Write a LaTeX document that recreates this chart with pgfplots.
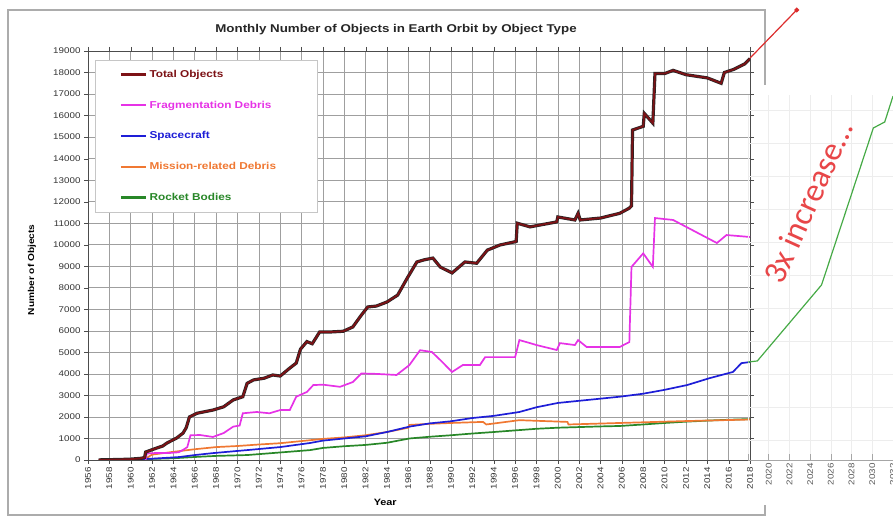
\documentclass[border=0pt]{standalone}
\usepackage{pgfplots}
\pgfplotsset{compat=1.18}
\usepackage{fontspec}
\setmainfont[FakeStretch=1.18]{Liberation Sans}
\newfontfamily\calib{Carlito}
\definecolor{tot}{RGB}{125,18,22}
\definecolor{frag}{RGB}{230,50,230}
\definecolor{sc}{RGB}{30,30,215}
\definecolor{mrd}{RGB}{240,120,50}
\definecolor{rb}{RGB}{40,135,40}
\definecolor{extgreen}{RGB}{70,170,70}
\definecolor{arrowred}{RGB}{220,45,45}
\definecolor{textred}{RGB}{232,70,72}
\begin{document}
\begin{tikzpicture}[x=1pt,y=1pt]
\useasboundingbox (0,0) rectangle (893,516);
\draw[gray!65, line width=1.3pt] (765,431) -- (765,506) -- (8,506) -- (8,1) -- (765,1) -- (765,11);
\node[font=\bfseries\fontsize{11.3}{13}\selectfont, text=black!85] at (396,486) {Monthly Number of Objects in Earth Orbit by Object Type};
\begin{axis}[
  at={(88pt,56pt)}, anchor=south west, scale only axis,
  width=662pt, height=409pt,
  xmin=1956, xmax=2018, ymin=0, ymax=19000,
  xtick={1956,1958,...,2018}, ytick={0,1000,...,19000},
  grid=major, grid style={gray!75, line width=0.6pt},
  axis line style={black!70, line width=0.9pt},
  tick style={black!70}, tick align=outside, major tick length=4pt,
  /pgf/number format/assume math mode=true,
  /pgf/number format/1000 sep={},
  scaled y ticks=false,
  x tick label style={rotate=90, anchor=east, font=\fontsize{8.3}{9}\selectfont, text=black!80},
  y tick label style={font=\fontsize{8.3}{9}\selectfont, text=black!80},
  ylabel={Number of Objects}, xlabel={Year},
  ylabel style={at={(axis description cs:-0.0846,0.465)}, anchor=center, font=\bfseries\fontsize{8.6}{10}\selectfont},
  xlabel style={at={(axis description cs:0.449,-0.103)}, anchor=center, font=\bfseries\fontsize{9.2}{10}\selectfont},
  reverse legend,
  legend style={at={(axis description cs:0.0106,0.978)}, anchor=north west,
    draw=gray!45, fill=white, font=\bfseries\fontsize{10}{12}\selectfont,
    row sep=18pt, inner xsep=24pt, inner ysep=8pt, cells={anchor=west}},
  legend image code/.code={\draw[#1] (0pt,0pt) -- (25pt,0pt);},
]
\addplot[rb, line width=1.7pt, legend image post style={line width=2.2pt}] coordinates {
(1957.5,0) (1960,20) (1962,50) (1964,80) (1966,140) (1968,190) (1970.9,230) (1974,350)
(1976.8,460) (1978,560) (1980,640) (1982,700) (1984,800) (1986.1,1000) (1988,1080)
(1990,1150) (1992,1230) (1994,1300) (1996.4,1390) (1998,1450) (2000,1500) (2002,1530)
(2004,1560) (2005.8,1580) (2008,1650) (2010,1720) (2012,1780) (2014,1830) (2016,1870) (2018,1900)};
\addlegendentry{\textcolor{rb}{\makebox[142pt][l]{Rocket Bodies}}}
\addplot[mrd, line width=1.7pt, legend image post style={line width=2.2pt}] coordinates {
(1958,0) (1960,20) (1961.5,100) (1962,250) (1964,380) (1966,500) (1968,600) (1970,650)
(1972,720) (1974,780) (1976,880) (1978,980) (1980,1050) (1982,1150) (1984,1300)
(1986,1500) (1986.1,1630) (1988,1680) (1990,1720) (1993,1770) (1993.3,1650)
(1996.4,1850) (2000.9,1770) (2001,1650) (2005.8,1720) (2012.1,1810) (2018,1880)};
\addlegendentry{\textcolor{mrd}{Mission-related Debris}}
\addplot[sc, line width=1.7pt, legend image post style={line width=2.2pt}] coordinates {
(1957.5,0) (1960,30) (1962,60) (1964,120) (1964.6,140) (1966,230) (1967.7,320) (1970.9,460)
(1974,600) (1976.8,790) (1978,900) (1980,1000) (1982,1100) (1984,1300) (1986.1,1550)
(1988,1700) (1990,1800) (1992,1950) (1994,2050) (1996.4,2230) (1998,2450) (2000,2650)
(2002,2750) (2004,2850) (2005.8,2940) (2008,3080) (2009.9,3250) (2012.1,3480)
(2014.2,3800) (2016.4,4090) (2017.2,4500) (2018,4550)};
\addlegendentry{\textcolor{sc}{Spacecraft}}
\addplot[frag, line width=1.7pt, legend image post style={line width=2.2pt}] coordinates {
(1961.4,0) (1961.5,300) (1962.5,330) (1963.5,320) (1964.5,360) (1965,500) (1965.3,600)
(1965.6,1150) (1966.5,1160) (1967.7,1070) (1968.7,1250) (1969.6,1550) (1970.2,1600)
(1970.5,2170) (1971.8,2230) (1973,2170) (1974,2320) (1974.9,2320) (1975.5,2940)
(1976.5,3160) (1977.1,3480) (1978,3500) (1979.6,3400) (1980.8,3620) (1981.6,4020)
(1983,4000) (1984.9,3950) (1986.1,4410) (1987.1,5100) (1988.2,5020) (1989,4640)
(1990.1,4090) (1991.1,4410) (1992.7,4410) (1993.2,4780) (1996,4780) (1996.4,5570)
(1997.4,5430) (1998,5340) (1999.9,5110) (2000.2,5430) (2001.6,5340) (2001.9,5570)
(2002.7,5250) (2005.8,5250) (2006.7,5480) (2006.9,8970) (2008,9600) (2008.9,8970)
(2009.1,11240) (2010.8,11150) (2012.6,10680) (2014.9,10080) (2015.8,10450) (2018,10360)};
\addlegendentry{\textcolor{frag}{Fragmentation Debris}}
\addplot[black!85, line width=3.2pt, forget plot] coordinates {
(1957,5) (1958,15) (1959,25) (1960,40) (1961,80) (1961.3,120) (1961.4,370) (1962.4,550)
(1963,650) (1963.4,790) (1964.3,1020) (1964.9,1250) (1965.2,1500) (1965.5,2000)
(1966.2,2170) (1967.7,2320) (1968.7,2470) (1969.6,2790) (1970.5,2940) (1970.9,3560)
(1971.5,3720) (1972.5,3800) (1973.3,3950) (1974,3900) (1974.9,4270) (1975.5,4500)
(1975.9,5150) (1976.5,5500) (1977,5400) (1977.7,5950) (1978.8,5950) (1979.9,5980)
(1980.8,6180) (1981.6,6730) (1982.2,7110) (1983,7150) (1984,7340) (1985,7660)
(1985.9,8450) (1986.8,9200) (1987.5,9300) (1988.3,9380) (1989,8960) (1990.1,8690)
(1991.3,9200) (1992.4,9140) (1993.4,9750) (1994.6,9990) (1996.1,10150) (1996.2,11000)
(1997.4,10830) (1999.9,11060) (2000,11290) (2001.6,11150) (2001.9,11460) (2002.1,11150)
(2004,11240) (2005.8,11460) (2006.7,11700) (2006.9,11800) (2007,15330) (2008,15500)
(2008.1,16100) (2008.9,15650) (2009.1,17950) (2010,17950) (2010.8,18100) (2012,17900)
(2014,17750) (2015.3,17500) (2015.6,18000) (2016.5,18150) (2017.5,18400) (2018,18650)};
\addplot[tot, line width=1.8pt, legend image post style={line width=3.3pt}] coordinates {
(1957,5) (1958,15) (1959,25) (1960,40) (1961,80) (1961.3,120) (1961.4,370) (1962.4,550)
(1963,650) (1963.4,790) (1964.3,1020) (1964.9,1250) (1965.2,1500) (1965.5,2000)
(1966.2,2170) (1967.7,2320) (1968.7,2470) (1969.6,2790) (1970.5,2940) (1970.9,3560)
(1971.5,3720) (1972.5,3800) (1973.3,3950) (1974,3900) (1974.9,4270) (1975.5,4500)
(1975.9,5150) (1976.5,5500) (1977,5400) (1977.7,5950) (1978.8,5950) (1979.9,5980)
(1980.8,6180) (1981.6,6730) (1982.2,7110) (1983,7150) (1984,7340) (1985,7660)
(1985.9,8450) (1986.8,9200) (1987.5,9300) (1988.3,9380) (1989,8960) (1990.1,8690)
(1991.3,9200) (1992.4,9140) (1993.4,9750) (1994.6,9990) (1996.1,10150) (1996.2,11000)
(1997.4,10830) (1999.9,11060) (2000,11290) (2001.6,11150) (2001.9,11460) (2002.1,11150)
(2004,11240) (2005.8,11460) (2006.7,11700) (2006.9,11800) (2007,15330) (2008,15500)
(2008.1,16100) (2008.9,15650) (2009.1,17950) (2010,17950) (2010.8,18100) (2012,17900)
(2014,17750) (2015.3,17500) (2015.6,18000) (2016.5,18150) (2017.5,18400) (2018,18650)};
\addlegendentry{\textcolor{tot}{Total Objects}}
\end{axis}
\begin{axis}[
  at={(748pt,56pt)}, anchor=south west, scale only axis,
  width=145pt, height=365pt,
  xmin=2018, xmax=2032, ymin=0, ymax=16953,
  scaled y ticks=false, scaled x ticks=false,
  /pgf/number format/1000 sep={},
  axis x line*=bottom, axis y line*=left,
  y axis line style={draw=none}, x axis line style={gray!70, line width=0.8pt},
  xtick={2018,2020,...,2032}, xticklabels={,2020,2022,2024,2026,2028,2030,2032},
  ytick={930,2460,...,16300}, yticklabels={}, ytick style={draw=none},
  grid=major, grid style={gray!14, line width=0.6pt},
  tick align=inside, major tick length=6pt, xtick style={gray!70, line width=0.6pt},
  x tick label style={rotate=90, anchor=east, font=\fontsize{8.3}{9}\selectfont, text=black!65},
  clip=false,
]
\addplot[extgreen, line width=1.2pt] coordinates {
(2018,4550) (2018.9,4600) (2025.1,8130) (2030.1,15420) (2031.2,15700) (2032,16900)};
\addplot[arrowred, line width=1.2pt, mark=*, mark size=1.8pt, mark indices={2}] coordinates {
(2018.2,18670) (2022.7,20900)};
\end{axis}
\node[rotate=65.6, text=textred, font=\calib\fontsize{33}{36}\selectfont] at (808,314) {3x increase…};
\end{tikzpicture}
\end{document}
